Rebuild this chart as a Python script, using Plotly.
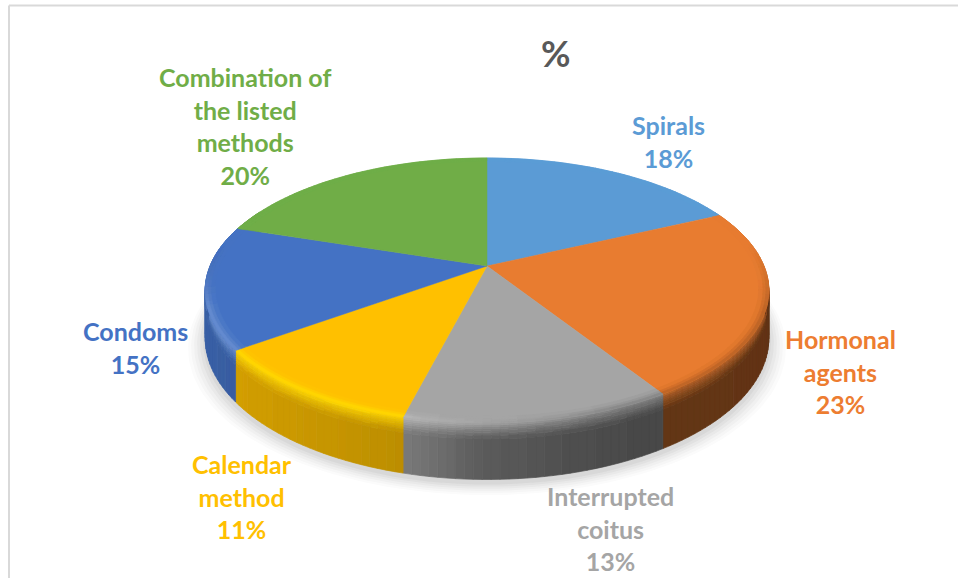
import math
import plotly.graph_objects as go

categories = ["Spirals", "Hormonal agents", "Interrupted coitus", "Calendar method", "Condoms", "Combination of the listed methods"]
percent_values = [18, 23, 13, 11, 15, 20]
label_lines = [["Spirals"], ["Hormonal", "agents"], ["Interrupted", "coitus"], ["Calendar", "method"], ["Condoms"], ["Combination of", "the listed", "methods"]]
slice_colors = [(91, 155, 213), (232, 124, 48), (165, 165, 165), (255, 192, 0), (68, 114, 196), (112, 173, 71)]
text_colors = ["#5b9bd5", "#ed7d31", "#a5a5a5", "#ffc000", "#4472c4", "#70ad47"]
chart_title = "%"

# pixel-canvas placement of the labels (centre of each block)
label_x = [668, 840, 610, 242, 135, 245]
label_y = [141, 371, 528, 496, 347, 126]

# projection of the pie disc
CX, CY, A, B, K, H = 487, 266, 277, 128, -0.185, 46
FONT = "Lato"


def project(theta, r=1.0, h=0.0):
    u = r * math.sin(theta)
    v = -r * math.cos(theta)
    d = 1 + K * v
    return CX + A * u / d, CY + (B * v + h) / d


def mix(c1, c2, t):
    return tuple(c1[i] + (c2[i] - c1[i]) * t for i in range(3))


def scale(c, m):
    return tuple(min(255, c[i] * m) for i in range(3))


def css(c, step=3):
    return tuple(int(min(255, round(x / step) * step)) for x in c)


def wall_mult(x):
    t = (x - 205) / 565
    pts = [(0, 0.84), (0.35, 0.74), (0.487, 0.56), (0.63, 0.48), (0.805, 0.43), (1, 0.42)]
    for (a, ma), (b, mb) in zip(pts, pts[1:]):
        if t <= b:
            return ma + (mb - ma) * (t - a) / (b - a)
    return 0.42


fig = go.Figure()
total = sum(percent_values)
edges = [0]
for val in percent_values:
    edges.append(edges[-1] + val / total * 2 * math.pi)

# soft shadow under the pie
ring = [i / 180 * 2 * math.pi for i in range(181)]
for grow, alpha in [(17, 0.018), (14, 0.022), (11, 0.03), (8, 0.035), (5, 0.04), (2, 0.05)]:
    xs, ys = [], []
    for th in ring:
        x, y = project(th, 1.0, H + 3)
        xs.append(CX + (x - CX) * (1 + grow / 282))
        ys.append(y + grow * (0.35 + 0.35 * max(0, -math.cos(th))))
    fig.add_trace(go.Scatter(x=xs, y=ys, mode="lines", fill="toself", fillcolor=f"rgba(60,60,60,{alpha})",
                             line=dict(width=0), hoverinfo="skip", showlegend=False))

# side wall and rim are tessellated, one trace per quantised colour
wall_levels = [0, 1.5, 3, 4.5, 6, 8, 10, 13, 46]
rim_levels = [0.965, 0.98, 0.99, 1.0]
wall_groups, rim_groups = {}, {}


def add_quad(groups, color, pts):
    xs, ys = groups.setdefault(color, ([], []))
    xs.extend([p[0] for p in pts] + [pts[0][0], None])
    ys.extend([p[1] for p in pts] + [pts[0][1], None])


for i, col in enumerate(slice_colors):
    a0, a1 = edges[i], edges[i + 1]
    n = max(6, int((a1 - a0) / (2 * math.pi) * 240))
    for s in range(n):
        t0 = a0 + (a1 - a0) * s / n
        t1 = a0 + (a1 - a0) * (s + 1) / n
        tm = (t0 + t1) / 2
        xm, _ = project(tm)
        front = max(0.0, -math.cos(tm) + 0.2)
        base = scale(col, wall_mult(xm))
        glow = max(0.0, min(1.0, (620 - xm) / 220)) * min(1.0, front * 2)
        hi = mix(col, (255, 235, 0) if i == 3 else (255, 255, 255), 0.55 if i == 3 else 0.2)
        hi = mix(scale(col, 0.8), hi, glow)
        if -math.cos(tm) > -0.45:
            for j in range(len(wall_levels) - 1):
                h0, h1 = wall_levels[j], wall_levels[j + 1]
                f = min(1.0, (h0 + h1) / 2 / 13)
                c = base if h0 >= 13 else mix(hi, base, f ** 0.8)
                add_quad(wall_groups, css(c), [project(t0, 1, h0), project(t1, 1, h0), project(t1, 1, h1), project(t0, 1, h1)])
        for j in range(len(rim_levels) - 1):
            r0, r1 = rim_levels[j], rim_levels[j + 1]
            f = (j + 0.5) / (len(rim_levels) - 1)
            c = mix(col, hi, f * min(1.0, front * 2))
            add_quad(rim_groups, css(c), [project(t0, r0), project(t1, r0), project(t1, r1), project(t0, r1)])


def add_group(groups):
    for c, (xs, ys) in groups.items():
        color = f"rgb({c[0]},{c[1]},{c[2]})"
        fig.add_trace(go.Scatter(x=xs, y=ys, mode="lines", fill="toself", fillcolor=color,
                                 line=dict(width=0.7, color=color), hoverinfo="skip", showlegend=False))


add_group(wall_groups)

# top face of each slice
for i, col in enumerate(slice_colors):
    a0, a1 = edges[i], edges[i + 1]
    n = 60
    pts = [(CX, CY)] + [project(a0 + (a1 - a0) * s / n) for s in range(n + 1)] + [(CX, CY)]
    color = f"rgb({col[0]},{col[1]},{col[2]})"
    fig.add_trace(go.Scatter(x=[p[0] for p in pts], y=[p[1] for p in pts], mode="lines", fill="toself",
                             fillcolor=color, line=dict(width=0.5, color=color), name=categories[i],
                             text=f"{categories[i]}: {percent_values[i]}%", hoverinfo="text", showlegend=False))

add_group(rim_groups)

for i, lines in enumerate(label_lines):
    text = "<br>".join(f"<b>{t}</b>" for t in lines + [f"{percent_values[i]}%"])
    fig.add_annotation(x=label_x[i], y=label_y[i], xref="x", yref="y", showarrow=False, xanchor="center", yanchor="middle",
                       align="center", text=text,
                       font=dict(family=FONT, size=25, color=text_colors[i]))

fig.add_annotation(x=556, y=53, xref="x", yref="y", showarrow=False, text=f"<b>{chart_title}</b>",
                   font=dict(family=FONT, size=36, color="#595959"))

# chart frame
fig.add_shape(type="line", xref="x", yref="y", x0=9, x1=958, y0=5.5, y1=5.5, line=dict(color="#d9d9d9", width=2))
fig.add_shape(type="line", xref="x", yref="y", x0=9, x1=9, y0=5.5, y1=578, line=dict(color="#d9d9d9", width=2))

fig.update_layout(width=958, height=578, margin=dict(l=0, r=0, t=0, b=0), paper_bgcolor="white", plot_bgcolor="white",
                  xaxis=dict(range=[0, 958], visible=False, fixedrange=True),
                  yaxis=dict(range=[578, 0], visible=False, fixedrange=True),
                  showlegend=False)
fig.write_html("out.html", config={"displayModeBar": False},
               post_script="document.body.style.margin='0';document.documentElement.style.overflow='hidden';")
